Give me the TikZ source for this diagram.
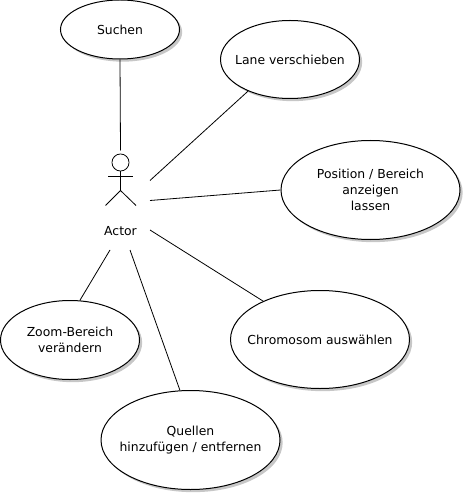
\documentclass[tikz,border=0pt]{standalone}
\usepackage{fontspec}
\setmainfont{DejaVu Sans}
\usetikzlibrary{
    shapes.geometric,
    shadows,
    positioning
}
\tikzset{
    usecase/.style={draw, ellipse, fill=white, inner sep=-20pt, align=center, font=\fontsize{9.3pt}{12pt}\selectfont, line width=0.75pt, drop shadow={shadow xshift=2pt, shadow yshift=-2pt, fill=black!22, draw=none, opacity=1}},
    link/.style={draw, line width=0.6pt}
}
\begin{document}
\begin{tikzpicture}[x=0.75pt, y=-0.75pt]
                        \useasboundingbox (0, 0) rectangle (465, 495);
                        \node[usecase, minimum width=89.25, minimum height=44.25] (suchen) at (120, 29.5) {Suchen};
                        \node[usecase, minimum width=104.25, minimum height=58.5] (lane) at (290, 59.5) {Lane verschieben};
                        \node[usecase, minimum width=134.25, minimum height=74.25] (pos) at (370.5, 190) {Position / Bereich\\anzeigen\\lassen};
                        \node[usecase, minimum width=134.25, minimum height=73.5] (chrom) at (320, 339.5) {Chromosom ausw\"ahlen};
                        \node[usecase, minimum width=134.25, minimum height=74.25] (quellen) at (190.5, 440) {Quellen\\hinzuf\"ugen / entfernen};
                        \node[usecase, minimum width=104.25, minimum height=59.25] (zoom) at (70, 340) {Zoom-Bereich\\ver\"andern};
                        \node[font=\fontsize{9.3pt}{12pt}\selectfont, inner sep=0pt] (actor) at (120.5, 231.5) {Actor};
                        \coordinate (top) at (120.5, 150.5);
                        \coordinate (right1) at (150, 180.5);
                        \coordinate (right2) at (150, 200.5);
                        \coordinate (right3) at (150, 230);
                        \coordinate (bot1) at (110, 250);
                        \coordinate (bot2) at (130, 250);
                        \coordinate (hip) at (120.5, 190.5);
                        \draw[link] (120.5, 162.5) circle[radius=6.4pt];
                        \draw[link] (120.5, 171) -- (hip);
                        \draw[link] (108, 176.5) -- (133, 176.5);
                        \draw[link] (105.5, 205.5) -- (hip) -- (136, 205.5);
                        \draw[link]
                        (suchen.south) -- (top)
                        (lane.217) -- (right1)
                        (pos.180) -- (right2)
                        (chrom.146) -- (right3)
                        (zoom.76) -- (bot1)
                        (quellen.102) -- (bot2);
                    \end{tikzpicture}
\end{document}
